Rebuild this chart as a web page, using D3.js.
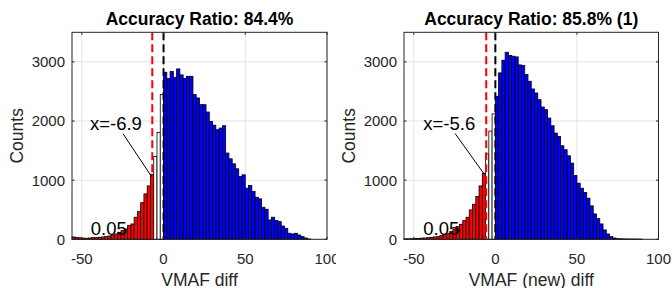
<!DOCTYPE html>
<html><head><meta charset="utf-8">
<script src="https://cdn.jsdelivr.net/npm/d3@7"></script>
<style>html,body{margin:0;padding:0;background:#fff;}svg{display:block;}</style>
</head><body>
<svg id="c" width="672" height="288"></svg>
<script>
// ---- data ----
const binStart = -56, binWidth = 2;
const leftCounts = [40,30,25,20,17,22,28,28,34,40,45,56,73,90,118,147,175,231,259,373,468,620,768,903,1100,
  1400,1807,2446,
  2824,2717,2836,2739,2881,2780,2722,2756,2756,2446,2390,2276,2276,2152,1994,1930,1853,1881,1920,1458,1361,1276,1192,1062,1090,864,909,807,711,683,542,508,327,373,316,299,225,186,102,90,102,73,45,22,5];
const rightCounts = [8,8,10,12,15,20,22,28,34,40,45,62,85,101,130,169,215,254,316,373,497,593,722,903,1118,
  1443,1830,2120,
  2418,2814,3028,3163,3107,3096,3084,2949,2938,2785,2672,2542,2474,2361,2237,2192,2050,1920,1796,1739,1581,1514,1412,1288,1080,949,864,790,695,565,429,350,260,158,90,45,22,10,8,6,5,5,4,4,3];
const titles = ["Accuracy Ratio: 84.4%", "Accuracy Ratio: 85.8% (1)"];
const xLabels = ["VMAF diff", "VMAF (new) diff"];
const yLabel = "Counts";
const thresholds = [-6.9, -5.6];
const thresholdTexts = ["x=-6.9", "x=-5.6"];
const pTexts = ["0.05", "0.05"];
const xTicks = [-50, 0, 50, 100];
const yTicks = [0, 1000, 2000, 3000];
const xDomain = [-56, 100];
const yDomain = [0, 3500];
// annotation anchor points in data units: [textX, textY, lineX0, lineY0, lineX1, lineY1, pX, pY]
const annLeft = [-45, 1850, -24.8, 1785, -7.3, 1060, -44.5, 73];
const annRight = [-44.2, 1840, -24.7, 1790, -6.8, 1100, -44.2, 73];

// ---- drawing ----
const svg = d3.select("#c");
const font = "'Liberation Sans', Arial, Helvetica, sans-serif";
const panels = [
  {counts: leftCounts, ann: annLeft, x0: 72, x1: 327, clipX: 0},
  {counts: rightCounts, ann: annRight, x0: 404, x1: 658.5, clipX: 336}
];
const axTop = 32.3, axBottom = 239.3;

const defs = svg.append("defs");
panels.forEach((p, i) => {
  defs.append("clipPath").attr("id", "clip" + i)
    .append("rect").attr("x", p.clipX).attr("y", 0).attr("width", 336).attr("height", 288);
});

panels.forEach((p, i) => {
  const g = svg.append("g").attr("clip-path", `url(#clip${i})`);
  const x = d3.scaleLinear().domain(xDomain).range([p.x0, p.x1]);
  const y = d3.scaleLinear().domain(yDomain).range([axBottom, axTop]);
  const thr = thresholds[i];

  // grid
  g.append("g").selectAll("line").data(xTicks).join("line")
    .attr("x1", d => x(d)).attr("x2", d => x(d)).attr("y1", axTop).attr("y2", axBottom)
    .attr("stroke", "#e3e3e3").attr("stroke-width", 1);
  g.append("g").selectAll("line").data(yTicks).join("line")
    .attr("x1", p.x0).attr("x2", p.x1).attr("y1", d => y(d)).attr("y2", d => y(d))
    .attr("stroke", "#e3e3e3").attr("stroke-width", 1);

  // bars
  const bins = p.counts.map((c, k) => ({lo: binStart + k * binWidth, hi: binStart + (k + 1) * binWidth, c}));
  g.append("g").selectAll("rect").data(bins).join("rect")
    .attr("x", d => x(d.lo)).attr("width", d => x(d.hi) - x(d.lo))
    .attr("y", d => y(d.c)).attr("height", d => y(0) - y(d.c))
    .attr("fill", d => {
      const mid = (d.lo + d.hi) / 2;
      return mid < thr ? "#ff0000" : (mid < 0 ? "#ffffff" : "#0000ff");
    })
    .attr("stroke", "#000").attr("stroke-width", 0.8);

  // dashed lines
  g.append("line").attr("x1", x(thr)).attr("x2", x(thr)).attr("y1", axTop).attr("y2", axBottom)
    .attr("stroke", "#ff0000").attr("stroke-width", 2).attr("stroke-dasharray", "8,4");
  g.append("line").attr("x1", x(0)).attr("x2", x(0)).attr("y1", axTop).attr("y2", axBottom)
    .attr("stroke", "#000").attr("stroke-width", 2).attr("stroke-dasharray", "8,4");

  // axes box
  g.append("rect").attr("x", p.x0).attr("y", axTop).attr("width", p.x1 - p.x0).attr("height", axBottom - axTop)
    .attr("fill", "none").attr("stroke", "#262626").attr("stroke-width", 1);
  // tick marks (inward, mirrored)
  const tl = 2.5;
  xTicks.forEach(t => {
    g.append("line").attr("x1", x(t)).attr("x2", x(t)).attr("y1", axBottom).attr("y2", axBottom - tl).attr("stroke", "#262626");
    g.append("line").attr("x1", x(t)).attr("x2", x(t)).attr("y1", axTop).attr("y2", axTop + tl).attr("stroke", "#262626");
  });
  yTicks.forEach(t => {
    g.append("line").attr("x1", p.x0).attr("x2", p.x0 + tl).attr("y1", y(t)).attr("y2", y(t)).attr("stroke", "#262626");
    g.append("line").attr("x1", p.x1).attr("x2", p.x1 - tl).attr("y1", y(t)).attr("y2", y(t)).attr("stroke", "#262626");
  });

  // tick labels
  g.append("g").selectAll("text").data(xTicks).join("text")
    .attr("x", d => x(d)).attr("y", 263.5).attr("text-anchor", "middle")
    .attr("font-family", font).attr("font-size", 15).attr("fill", "#262626").text(d => d);
  g.append("g").selectAll("text").data(yTicks).join("text")
    .attr("x", p.x0 - 7).attr("y", d => y(d)).attr("dy", "0.36em").attr("text-anchor", "end")
    .attr("font-family", font).attr("font-size", 15).attr("fill", "#262626").text(d => d);

  // labels
  const cx = (p.x0 + p.x1) / 2;
  g.append("text").attr("x", cx).attr("y", 285.5).attr("text-anchor", "middle")
    .attr("font-family", font).attr("font-size", 17.5).attr("fill", "#262626").text(xLabels[i]);
  g.append("text").attr("transform", `translate(${p.x0 - 49},${(axTop + axBottom) / 2}) rotate(-90)`)
    .attr("text-anchor", "middle").attr("font-family", font).attr("font-size", 17.5).attr("fill", "#262626").text(yLabel);
  g.append("text").attr("x", cx).attr("y", 25.2).attr("text-anchor", "middle")
    .attr("font-family", font).attr("font-size", 17.5).attr("font-weight", "bold").attr("fill", "#000").text(titles[i]);

  // annotations
  const a = p.ann;
  g.append("line").attr("x1", x(a[2])).attr("y1", y(a[3])).attr("x2", x(a[4])).attr("y2", y(a[5]))
    .attr("stroke", "#000").attr("stroke-width", 1);
  g.append("text").attr("x", x(a[0])).attr("y", y(a[1]))
    .attr("font-family", font).attr("font-size", 18.5).attr("fill", "#000").text(thresholdTexts[i]);
  g.append("text").attr("x", x(a[6])).attr("y", y(a[7]))
    .attr("font-family", font).attr("font-size", 18.5).attr("fill", "#000").text(pTexts[i]);
});
</script>
</body></html>
